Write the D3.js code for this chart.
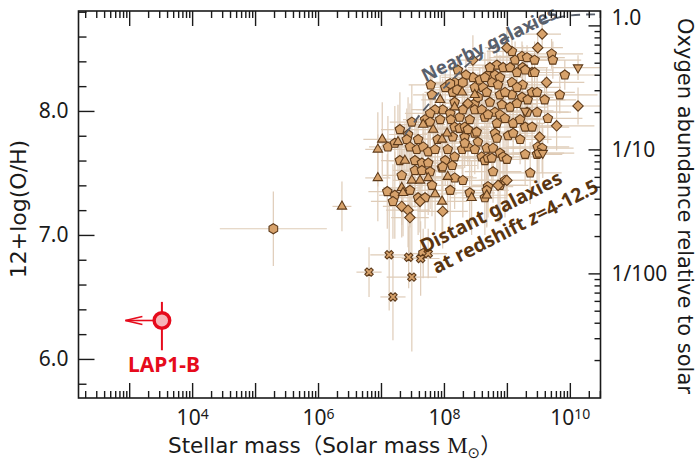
<!DOCTYPE html>
<html>
<head>
<meta charset="utf-8">
<script src="https://cdn.jsdelivr.net/npm/d3@7"></script>
<style>
  body { margin: 0; background: #fff; }
  svg text { fill: #1a1a1a; }
</style>
</head>
<body>
<script>
// each row: [log10 stellar mass, 12+log(O/H), x error (dex), y error (dex)]
var pentagons = [
  [7.79,8.21,0.35,0.15],[8.17,8.23,0.4,0.12],[7.81,8.13,0.3,0.2],[8.14,8.15,0.45,0.1],
  [8.46,8.27,0.5,0.15],[8.57,8.25,0.3,0.1],[8.49,8.19,0.6,0.12],[8.62,8.19,0.35,0.18],
  [8.49,8.06,0.4,0.1],[8.17,8.07,0.3,0.2],[7.98,8.01,0.5,0.25],[7.86,8.01,0.3,0.15],
  [7.78,7.98,0.4,0.3],[7.70,7.93,0.35,0.2],[7.78,7.91,0.25,0.15],[8.10,7.98,0.4,0.12],
  [8.11,7.93,0.3,0.18],[8.25,7.95,0.5,0.1],[8.30,8.01,0.35,0.14],[8.49,8.01,0.45,0.2],
  [8.60,8.01,0.3,0.1],[8.65,7.95,0.5,0.15],[8.17,7.87,0.3,0.2],[8.25,7.86,0.4,0.12],
  [8.33,7.87,0.35,0.25],[8.14,7.79,0.3,0.2],[8.33,7.79,0.5,0.15],[8.49,7.82,0.4,0.18],
  [8.54,7.75,0.35,0.22],[7.43,7.81,0.3,0.3],[7.41,7.77,0.4,0.25],[7.59,7.77,0.35,0.2],
  [7.46,7.71,0.3,0.35],[7.57,7.69,0.4,0.2],[7.67,7.71,0.3,0.25],[7.75,7.67,0.35,0.2],
  [7.86,7.69,0.45,0.3],[7.11,7.71,0.3,0.25],[7.22,7.74,0.25,0.3],[7.54,7.60,0.4,0.3],
  [7.65,7.58,0.3,0.2],[7.75,7.58,0.35,0.25],[8.02,7.60,0.5,0.2],[8.17,7.63,0.4,0.25],
  [8.29,7.69,0.3,0.2],[8.38,7.71,0.45,0.15],[8.49,7.69,0.35,0.2],[8.60,7.63,0.4,0.25],
  [8.65,7.60,0.3,0.2],[7.97,7.54,0.35,0.3],[8.13,7.56,0.4,0.2],[7.33,7.48,0.3,0.35],
  [7.54,7.52,0.35,0.3],[7.65,7.52,0.3,0.25],[7.78,7.51,0.4,0.3],[8.17,7.46,0.35,0.25],
  [8.30,7.44,0.5,0.3],[7.10,7.35,0.3,0.3],[7.22,7.32,0.25,0.35],[7.19,7.27,0.35,0.3],
  [7.59,7.30,0.4,0.3],[7.70,7.30,0.3,0.25],[8.41,7.34,0.4,0.3],[8.65,7.30,0.35,0.3],
  [7.98,7.55,0.3,0.2],[8.84,7.90,0.6,0.2],[9.10,7.90,0.5,0.15],[9.29,7.87,0.7,0.12],
  [9.40,7.87,0.4,0.18],[8.81,7.82,0.5,0.2],[8.84,7.78,0.4,0.25],[9.02,7.80,0.6,0.15],
  [9.10,7.82,0.35,0.2],[9.49,7.71,0.5,0.2],[9.48,7.65,0.4,0.25],[8.68,7.70,0.45,0.2],
  [8.78,7.70,0.5,0.15],[8.89,7.66,0.4,0.25],[8.94,7.63,0.6,0.2],[9.00,7.61,0.35,0.3],
  [8.70,7.62,0.4,0.2],[8.76,7.62,0.3,0.25],[9.37,7.50,0.5,0.25],[8.89,7.40,0.45,0.3],
  [8.70,7.39,0.4,0.25],[8.68,7.36,0.35,0.3],[9.13,8.41,0.5,0.15],[9.24,8.44,0.45,0.12],
  [9.32,8.43,0.6,0.1],[9.44,8.41,0.4,0.15],[9.71,8.46,0.5,0.12],[9.73,8.41,0.45,0.15],
  [8.84,8.37,0.5,0.2],[8.94,8.35,0.4,0.15],[9.05,8.35,0.55,0.12],[9.25,8.35,0.4,0.18],
  [9.40,8.31,0.6,0.15],[8.70,8.29,0.4,0.2],[8.81,8.29,0.5,0.12],[8.89,8.27,0.35,0.18],
  [8.76,8.23,0.45,0.15],[8.86,8.21,0.5,0.2],[9.08,8.23,0.6,0.12],[9.25,8.21,0.4,0.15],
  [9.16,8.19,0.7,0.18],[8.68,8.15,0.45,0.2],[8.89,8.13,0.5,0.15],[9.08,8.13,0.8,0.12],
  [9.24,8.11,0.5,0.2],[9.40,8.15,0.45,0.15],[9.48,8.15,0.6,0.18],[8.73,8.07,0.4,0.2],
  [8.92,8.05,0.55,0.15],[9.05,8.03,0.6,0.2],[9.16,8.06,0.45,0.15],[9.32,7.99,0.7,0.2],
  [9.48,7.99,0.5,0.15],[8.81,7.99,0.4,0.2],[8.70,7.97,0.5,0.18],[8.89,7.97,0.45,0.2],
  [8.73,8.35,0.35,0.15],[9.16,8.31,0.5,0.12],[9.29,8.33,0.45,0.15],[9.44,8.31,0.55,0.18],
  [8.65,8.27,0.4,0.2],[8.38,7.85,0.35,0.2],[8.52,7.83,0.5,0.18],[8.33,7.74,0.4,0.2],
  [8.78,7.51,0.45,0.25],[8.97,7.44,0.4,0.3],[9.56,7.70,0.5,0.2],[9.51,7.66,0.4,0.25],
  [8.02,8.19,0.3,0.15],[8.22,8.33,0.35,0.12],[8.35,8.29,0.4,0.15],[8.97,8.15,0.5,0.2],
  [9.33,8.09,0.6,0.15],[9.60,8.09,0.5,0.18],[9.65,7.94,0.55,0.2],[9.21,7.93,0.45,0.15],
  [8.97,7.94,0.4,0.2],[8.41,7.93,0.35,0.18],[7.94,7.93,0.3,0.25],[7.49,7.91,0.35,0.3],
  [7.30,7.85,0.3,0.3],[7.90,7.77,0.4,0.25],[8.06,7.69,0.35,0.2],[7.30,7.60,0.3,0.3],
  [7.46,7.36,0.3,0.3],[7.81,7.40,0.35,0.25],[8.10,7.36,0.4,0.3],[9.21,7.77,0.5,0.2],
  [9.29,7.65,0.45,0.25],[9.84,8.13,0.6,0.15],[9.92,8.29,0.5,0.12],[9.08,8.48,0.4,0.15]
];
var hexagons = [
  [5.29,7.05,0.85,0.3],[7.67,6.85,0.25,0.2],[8.21,8.17,0.4,0.15],[8.30,8.23,0.35,0.12],
  [8.10,8.22,0.3,0.15],[8.54,8.11,0.4,0.2]
];
var diamonds = [
  [9.56,8.62,0.3,0.1],[9.49,8.51,0.4,0.12],[9.00,8.51,0.35,0.15],[8.46,8.41,0.3,0.2],
  [9.63,8.23,0.6,0.12],[10.13,8.04,0.5,0.15],[9.79,7.88,0.6,0.2],[9.52,7.79,0.5,0.15],
  [8.38,8.06,0.4,0.15],[7.62,7.27,0.3,0.25],[7.33,7.23,0.3,0.25],[7.43,7.20,0.35,0.3],
  [7.46,7.14,0.3,0.35],[7.98,7.19,0.4,0.3],[9.00,7.44,0.45,0.25],[8.86,7.40,0.4,0.3]
];
var trianglesUp = [
  [7.94,8.09,0.3,0.2],[8.29,8.15,0.35,0.15],[8.49,8.13,0.4,0.18],[8.17,8.03,0.3,0.2],
  [7.67,7.89,0.35,0.25],[7.83,7.85,0.3,0.2],[8.05,7.82,0.4,0.2],[7.97,7.77,0.3,0.25],
  [7.02,7.77,0.3,0.3],[7.27,7.75,0.25,0.3],[6.95,7.69,0.2,0.3],[7.38,7.60,0.3,0.3],
  [6.95,7.46,0.2,0.35],[7.75,7.46,0.35,0.3],[7.49,7.44,0.3,0.3],[7.62,7.44,0.3,0.25],
  [8.06,7.47,0.4,0.3],[7.33,7.38,0.3,0.3],[7.35,7.34,0.25,0.35],[7.86,7.33,0.35,0.3],
  [7.97,7.27,0.4,0.25],[8.44,7.30,0.35,0.3],[8.68,7.32,0.4,0.25],[6.38,7.23,0.15,0.2]
];
var trianglesDown = [
  [10.13,8.35,0.4,0.1],[9.57,7.66,0.5,0.2],[9.29,8.00,0.45,0.15]
];
var crosses = [
  [6.81,6.70,0.2,0.2],[7.13,6.84,0.3,0.45],[7.44,6.82,0.25,0.25],[7.49,6.66,0.4,0.6],
  [7.19,6.50,0.2,0.35],[7.63,6.81,0.3,0.3],[7.75,6.85,0.3,0.2]
];

// LAP1-B: mass upper limit, metallicity with error
var lap1b = { logM: 3.52, oh: 6.31, ohLow: 6.07, ohHigh: 6.46, arrowTo: 2.94 };

// local mass-metallicity relation [log10 M, 12+log(O/H)]
var nearbyCurve = [
  [7.38,7.81],[7.62,7.97],[7.89,8.13],[8.13,8.25],[8.41,8.39],
  [8.81,8.53],[9.21,8.64],[9.60,8.72],[10.00,8.77],[10.44,8.78]
];

var xTickPowers = [4, 6, 8, 10];
var yTickValues = [6.0, 7.0, 8.0];
var solarTickValues = [1, 0.1, 0.01];
var solarTickLabels = ["1.0", "1/10", "1/100"];
var solarOH = 8.69;

var W = 700, H = 461;
var plotL = 78.5, plotR = 600.5, plotT = 11, plotB = 398;
var brown = "#5e3b1b", tan = "#d7a26b", barColor = "#dcc7b1", red = "#e60b1c";

var svg = d3.select("body").append("svg")
    .attr("width", W)
    .attr("height", H);

var x = d3.scaleLog()
    .domain([Math.pow(10, 2.195), Math.pow(10, 10.487)])
    .range([plotL, plotR]);
var y = d3.scaleLinear()
    .domain([5.685, 8.806])
    .range([plotB, plotT]);
var ySolar = d3.scaleLog()
    .domain([Math.pow(10, 5.685 - solarOH), Math.pow(10, 8.806 - solarOH)])
    .range([plotB, plotT]);

function px(d) { return x(Math.pow(10, d[0])); }
function py(d) { return y(d[1]); }

// ---------- error bars ----------
var allPoints = pentagons.concat(hexagons, diamonds, trianglesUp, trianglesDown, crosses);
var bars = svg.append("g")
    .attr("stroke", barColor)
    .attr("stroke-width", 1.2)
    .attr("opacity", 0.9);
bars.selectAll("line.h")
    .data(allPoints)
    .enter().append("line")
    .attr("x1", function(d) { return x(Math.pow(10, d[0] - d[2])); })
    .attr("x2", function(d) { return Math.min(plotR, x(Math.pow(10, d[0] + d[2]))); })
    .attr("y1", py).attr("y2", py);
bars.selectAll("line.v")
    .data(allPoints)
    .enter().append("line")
    .attr("x1", px).attr("x2", px)
    .attr("y1", function(d) { return y(d[1] - d[3]); })
    .attr("y2", function(d) { return y(d[1] + d[3]); });

// ---------- markers ----------
function polygon(n, rot) {
    return {
        draw: function(ctx, size) {
            var r = Math.sqrt(size);
            for (var i = 0; i < n; i++) {
                var a = rot + i * 2 * Math.PI / n;
                var vx = r * Math.sin(a), vy = -r * Math.cos(a);
                if (i === 0) ctx.moveTo(vx, vy); else ctx.lineTo(vx, vy);
            }
            ctx.closePath();
        }
    };
}

function drawMarkers(data, type, size, rotate) {
    svg.append("g").selectAll("path")
        .data(data)
        .enter().append("path")
        .attr("d", d3.symbol().type(type).size(size))
        .attr("transform", function(d) {
            return "translate(" + px(d) + "," + py(d) + ")" + (rotate ? " rotate(" + rotate + ")" : "");
        })
        .attr("fill", tan)
        .attr("stroke", brown)
        .attr("stroke-width", 1.1);
}

drawMarkers(pentagons, polygon(5, 0), 25);
drawMarkers(hexagons, polygon(6, 0), 25);
drawMarkers(diamonds, polygon(4, 0), 27);
drawMarkers(trianglesUp, polygon(3, 0), 29);
drawMarkers(trianglesDown, polygon(3, Math.PI), 29);
drawMarkers(crosses, d3.symbolCross, 44, 45);

// ---------- nearby galaxies relation (drawn over the points) ----------
svg.append("path")
    .datum(nearbyCurve)
    .attr("d", d3.line().x(px).y(py).curve(d3.curveMonotoneX))
    .attr("fill", "none")
    .attr("stroke", "#59606c")
    .attr("stroke-width", 1.8)
    .attr("stroke-dasharray", "9,6");

// ---------- LAP1-B ----------
var lx = x(Math.pow(10, lap1b.logM)), ly = y(lap1b.oh);
var ax = x(Math.pow(10, lap1b.arrowTo));
svg.append("line")
    .attr("x1", lx).attr("x2", lx)
    .attr("y1", y(lap1b.ohLow)).attr("y2", y(lap1b.ohHigh))
    .attr("stroke", red).attr("stroke-width", 2);
svg.append("line")
    .attr("x1", lx - 8).attr("x2", ax)
    .attr("y1", ly).attr("y2", ly)
    .attr("stroke", red).attr("stroke-width", 1.6);
svg.append("path")
    .attr("d", "M" + (ax + 17) + "," + (ly - 4) + "L" + ax + "," + ly + "L" + (ax + 17) + "," + (ly + 4))
    .attr("fill", "none").attr("stroke", red).attr("stroke-width", 1.6);
svg.append("circle")
    .attr("cx", lx).attr("cy", ly).attr("r", 7.8)
    .attr("fill", "#f6b5b8")
    .attr("stroke", red)
    .attr("stroke-width", 3.4);
svg.append("text")
    .attr("x", lx + 2).attr("y", 372)
    .attr("text-anchor", "middle")
    .attr("font-family", "Noto Sans")
    .attr("font-weight", "bold")
    .attr("font-size", 21)
    .style("fill", red)
    .text("LAP1-B");

// ---------- annotations ----------
svg.append("text")
    .attr("transform", "translate(492,50) rotate(-26)")
    .attr("text-anchor", "middle")
    .attr("font-family", "Noto Sans")
    .attr("font-weight", "bold")
    .attr("font-size", 18.5)
    .style("fill", "#59606c")
    .text("Nearby galaxies");

var distant = svg.append("g")
    .attr("transform", "translate(494,218) rotate(-27)")
    .attr("font-family", "Noto Sans")
    .attr("font-weight", "bold")
    .attr("font-size", 19.5)
    .attr("text-anchor", "middle");
distant.append("text").style("fill", "#5a3510").text("Distant galaxies");
var l2 = distant.append("text").attr("x", 15).attr("y", 24).style("fill", "#5a3510");
l2.append("tspan").text("at redshift ");
l2.append("tspan").attr("font-style", "italic").text("z");
l2.append("tspan").text("=4-12.5");

// ---------- axes ----------
var majorX = xTickPowers.map(function(p) { return Math.pow(10, p); });
var allDecades = x.ticks().filter(function(v) {
    return Math.abs(Math.log10(v) - Math.round(Math.log10(v))) < 1e-6;
});
var minorX = x.ticks().filter(function(v) { return allDecades.indexOf(v) < 0; });

function styleAxis(g) {
    g.select(".domain").remove();
    g.selectAll(".tick line").attr("stroke", "#1a1a1a").attr("stroke-width", 1.4);
    g.selectAll("text").attr("font-family", "Noto Sans").attr("font-size", 21).style("fill", "#1a1a1a");
}

// bottom
svg.append("g").attr("transform", "translate(0," + plotB + ")")
    .call(d3.axisBottom(x).tickValues(minorX).tickSize(-7).tickFormat(""))
    .call(styleAxis);
svg.append("g").attr("transform", "translate(0," + plotB + ")")
    .call(d3.axisBottom(x).tickValues(allDecades).tickSize(-15).tickFormat(""))
    .call(styleAxis);
svg.append("g").attr("transform", "translate(0," + plotB + ")")
    .call(d3.axisBottom(x).tickValues(majorX).tickSize(0).tickPadding(12).tickFormat(""))
    .call(styleAxis)
    .selectAll(".tick text")
    .each(function(d) {
        var t = d3.select(this).attr("dy", "0.71em");
        t.append("tspan").text("10");
        t.append("tspan").attr("dy", "-0.42em").attr("font-size", 14)
            .text(Math.round(Math.log10(d)));
    });
// top
svg.append("g").attr("transform", "translate(0," + plotT + ")")
    .call(d3.axisTop(x).tickValues(minorX).tickSize(-7).tickFormat(""))
    .call(styleAxis);
svg.append("g").attr("transform", "translate(0," + plotT + ")")
    .call(d3.axisTop(x).tickValues(allDecades).tickSize(-15).tickFormat(""))
    .call(styleAxis);

// left
var yMinor = d3.range(58, 89, 2).map(function(v) { return v / 10; })
    .filter(function(v) { return yTickValues.indexOf(v) < 0; });
svg.append("g").attr("transform", "translate(" + plotL + ",0)")
    .call(d3.axisLeft(y).tickValues(yMinor).tickSize(-8).tickFormat(""))
    .call(styleAxis);
svg.append("g").attr("transform", "translate(" + plotL + ",0)")
    .call(d3.axisLeft(y).tickValues(yTickValues).tickSize(-16).tickPadding(10).tickFormat(d3.format(".1f")))
    .call(styleAxis);

// right (relative to solar)
var solarMinor = ySolar.ticks().filter(function(v) {
    return Math.abs(Math.log10(v) - Math.round(Math.log10(v))) > 1e-6;
});
svg.append("g").attr("transform", "translate(" + plotR + ",0)")
    .call(d3.axisRight(ySolar).tickValues(solarMinor).tickSize(-6).tickFormat(""))
    .call(styleAxis);
svg.append("g").attr("transform", "translate(" + plotR + ",0)")
    .call(d3.axisRight(ySolar).tickValues(solarTickValues).tickSize(-12).tickPadding(11)
        .tickFormat(function(d, i) { return solarTickLabels[i]; }))
    .call(styleAxis)
    .selectAll(".tick text")
    .attr("dy", function(d, i) { return i === 0 ? "-0.05em" : "0.32em"; });

// frame
svg.append("rect")
    .attr("x", plotL).attr("y", plotT)
    .attr("width", plotR - plotL).attr("height", plotB - plotT)
    .attr("fill", "none")
    .attr("stroke", "#1a1a1a")
    .attr("stroke-width", 1.6);

// ---------- axis titles ----------
svg.append("text")
    .attr("transform", "translate(26,209) rotate(-90)")
    .attr("text-anchor", "middle")
    .attr("font-family", "DejaVu Sans")
    .attr("font-size", 22)
    .text("12+log(O/H)");

svg.append("text")
    .attr("transform", "translate(678,206) rotate(90)")
    .attr("text-anchor", "middle")
    .attr("font-family", "DejaVu Sans")
    .attr("font-size", 21)
    .text("Oxygen abundance relative to solar");

var xt = svg.append("text")
    .attr("x", 168).attr("y", 453)
    .attr("font-family", "DejaVu Sans")
    .attr("font-size", 21.5);
xt.append("tspan").text("Stellar mass");
xt.append("tspan").attr("font-family", "Noto Sans CJK JP").text("（");
xt.append("tspan").text("Solar mass ");
xt.append("tspan").attr("font-family", "Liberation Serif").attr("font-size", 23).text("M");
xt.append("tspan").attr("dy", 5).attr("font-size", 15).text("⊙");
xt.append("tspan").attr("dy", -5).attr("font-family", "Noto Sans CJK JP").text("）");
</script>
</body>
</html>
